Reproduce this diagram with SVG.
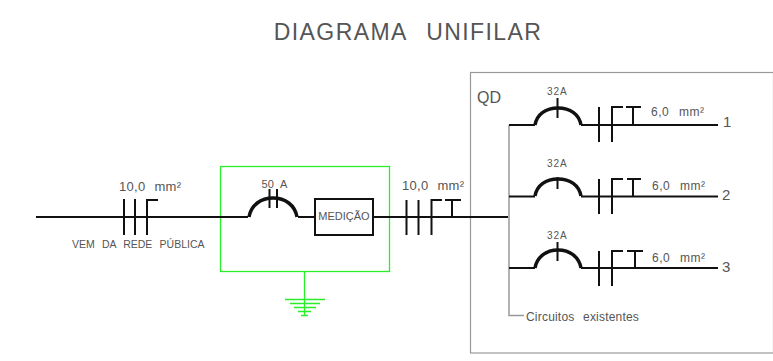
<svg xmlns="http://www.w3.org/2000/svg" width="773" height="361" viewBox="0 0 773 361">
<style>
text{font-family:"Liberation Sans",Arial,sans-serif;fill:#555;word-spacing:3px}
.w{fill:none;stroke:#111;stroke-width:2}
.a{fill:none;stroke:#111;stroke-width:3.500}
.g{fill:none;stroke:#2bee2b;stroke-width:1.300}
.q{fill:none;stroke:#999;stroke-width:1.500}
</style>
<rect width="773" height="361" fill="#fff"/>
<text id="title" x="408" y="40" font-size="23" text-anchor="middle" letter-spacing="1.400" style="word-spacing:12px">DIAGRAMA UNIFILAR</text>
<g id="qd">
<rect x="470.500" y="72.500" width="303" height="280.500" fill="none" stroke="#999" stroke-width="1.200"/>
<text x="477" y="103" font-size="16">QD</text>
</g>
<g id="medidor-box">
<rect x="220.500" y="166.500" width="169" height="105" class="g"/>
</g>
<g id="aterramento">
<path class="g" d="M304.500 271V315M285 299.500H325M290 303.500H320M294 307.500H316M298 311.500H311M301 315.500H308"/>
</g>
<g id="connectors">
<path class="w" d="M36 217H248M298 217H315M373 217H508"/>
<path class="w" d="M124 199V235M135 199V235M147 235V200H158"/>
<path class="w" d="M406.500 200V235M418.500 200V235M431.500 235V200H442M445 200H461M452 200V217"/>
<path class="q" d="M509 125V315.500H524"/>
<g id="circuit-1">
<path class="w" d="M509 125H535M581 125H718"/>
<path class="a" d="M535 125C537 114 546 108 558 108C570 108 579 114 581 125"/>
<path class="w" d="M557.500 98V118M599 107V142M612 142V107H623M626 107H641M633 107V125"/>
</g>
<g id="circuit-2">
<path class="w" d="M509 196.500H535M581 196.500H718"/>
<path class="a" d="M535 196C537 185 546 179 558 179C570 179 579 185 581 196"/>
<path class="w" d="M557.500 177V189M599 179V214M612 214V179H623M627 179H641M633 179V196"/>
</g>
<g id="circuit-3">
<path class="w" d="M509 268H535M581 268H718"/>
<path class="a" d="M535 268C537 257 546 250 558 250C570 250 579 257 581 268"/>
<path class="w" d="M557.500 242V261M599 251V286M612 286V251H623M627 251H643M635 251V268"/>
</g>
</g>
<g id="disjuntor-50a">
<path class="a" d="M249 217C251 205 261 198 273 198C285 198 295 205 297 217"/>
<path class="w" d="M269.500 189V208M277 189V208"/>
<text x="274.500" y="188" font-size="11" text-anchor="middle" letter-spacing="0.300">50 A</text>
</g>
<g id="medicao">
<rect x="315" y="199" width="58" height="36" fill="#fff" stroke="#111" stroke-width="2"/>
<text x="344" y="220" font-size="11" text-anchor="middle">MEDIÇÃO</text>
</g>
<g id="labels">
<text x="119" y="191" font-size="13" letter-spacing="0.300" style="word-spacing:5px">10,0 mm²</text>
<text x="72" y="248" font-size="10.500" style="word-spacing:4.300px">VEM DA REDE PÚBLICA</text>
<text x="402" y="190" font-size="13" letter-spacing="0.300" style="word-spacing:5px">10,0 mm²</text>
<text x="547" y="95" font-size="10" letter-spacing="1">32A</text>
<text x="547" y="167" font-size="10" letter-spacing="1">32A</text>
<text x="547" y="239" font-size="10" letter-spacing="1">32A</text>
<text x="651" y="116" font-size="12" letter-spacing="0.500" style="word-spacing:6px">6,0 mm²</text>
<text x="652" y="190" font-size="12" letter-spacing="0.500" style="word-spacing:6px">6,0 mm²</text>
<text x="652" y="262" font-size="12" letter-spacing="0.500" style="word-spacing:6px">6,0 mm²</text>
<text x="723" y="127" font-size="15">1</text>
<text x="722" y="200" font-size="15">2</text>
<text x="722" y="272" font-size="15">3</text>
<text x="526" y="321" font-size="12" letter-spacing="0.200" style="word-spacing:5px">Circuitos existentes</text>
</g>
</svg>
